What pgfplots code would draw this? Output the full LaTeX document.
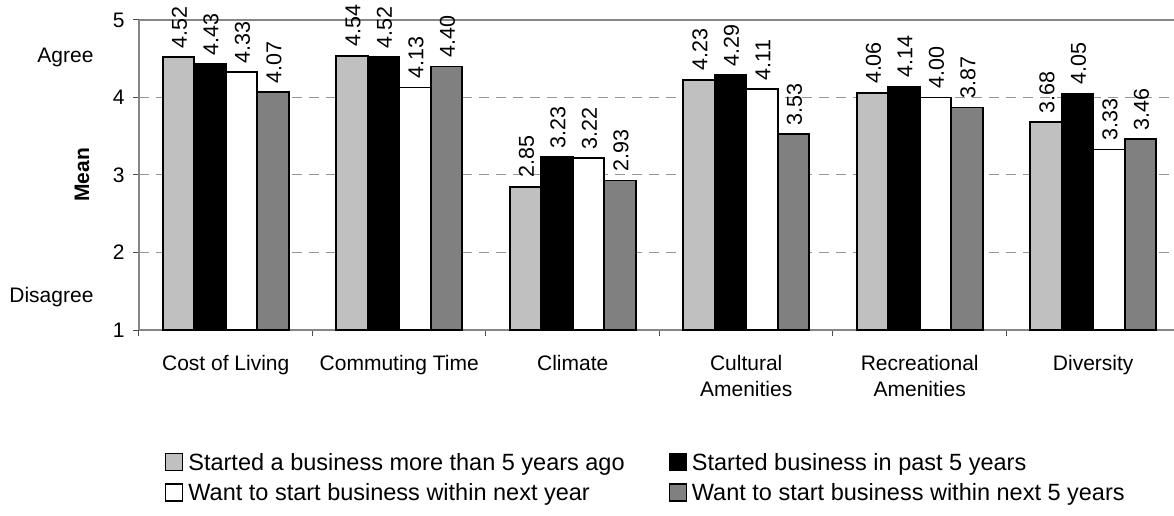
\documentclass[border=0pt]{standalone}
\usepackage{fontspec}
\setmainfont{Liberation Sans}
\usepackage{pgfplots}
\usepackage{pgfplotstable}
\pgfplotsset{compat=1.18}
\definecolor{lgray}{HTML}{C0C0C0}
\definecolor{dgray}{HTML}{808080}
\definecolor{axgray}{HTML}{868686}
\definecolor{grgray}{HTML}{959595}

\pgfplotstableread{
x a b c d
0 4.52 4.43 4.33 4.07
1 4.54 4.52 4.13 4.40
2 2.85 3.23 3.22 2.93
3 4.23 4.29 4.11 3.53
4 4.06 4.14 4.00 3.87
5 3.68 4.05 3.33 3.46
}\datatable

\begin{document}
\begin{tikzpicture}
\path[use as bounding box] (-139pt,-186pt) rectangle (1035pt,330pt);
\begin{axis}[
  at={(0pt,0pt)}, anchor=south west,
  scale only axis, width=1035pt, height=310pt,
  xmin=-0.5, xmax=5.4654, ymin=1, ymax=5,
  ybar=0pt, bar width=0.1816,
  font=\fontsize{21}{26}\selectfont,
  /pgf/number format/assume math mode=true,
  axis lines=left,
  axis line style={-, axgray, line width=1.2pt},
  tick align=outside,
  major tick length=6pt, minor tick length=6pt,
  ytick={1,2,3,4,5},
  xtick={0,1,2,3,4,5},
  xticklabels={Cost of Living, Commuting Time, Climate, Cultural\\Amenities, Recreational\\Amenities, Diversity},
  minor xtick={-0.5,0.5,1.5,2.5,3.5,4.5},
  major x tick style={draw=none},
  minor x tick style={black!70, line width=1pt},
  major y tick style={black!70, line width=1pt},
  xticklabel style={align=center, anchor=north, yshift=-16pt},
  yticklabel style={xshift=-5pt},
  ymajorgrids,
  major grid style={grgray, line width=1pt, dash pattern=on 10pt off 7pt},
  ylabel={\bfseries Mean},
  ylabel style={at={(axis description cs:-0.0551,0.5)}, anchor=center},
  nodes near coords={\pgfmathprintnumber[fixed,fixed zerofill,precision=2]{\pgfplotspointmeta}},
  every node near coord/.append style={rotate=90, anchor=west, font=\fontsize{21.5}{26}\selectfont, inner sep=0pt, xshift=8pt, yshift=-1pt},
  legend columns=2,
  legend cell align=left,
  legend style={at={(rel axis cs:0,0)}, anchor=north west, xshift=24pt, yshift=-119pt,
    draw=none, fill=none, font=\fontsize{23.5}{28}\selectfont,
    row sep=8pt, inner sep=2pt,
    /tikz/every node/.append style={inner sep=2pt},
    /tikz/column 1/.style={column sep=3pt},
    /tikz/column 3/.style={column sep=3pt},
    /tikz/column 2/.style={column sep=42pt}},
  legend image code/.code={\draw[#1, line width=1.2pt] (0pt,-8pt) rectangle (17pt,9pt);},
  clip=false,
]
\addplot[draw=black, fill=lgray, line width=1.8pt] table[x=x, y=a] {\datatable};
\addplot[draw=black, fill=black, line width=1.8pt] table[x=x, y=b] {\datatable};
\addplot[draw=black, fill=white, line width=1.8pt] table[x=x, y=c] {\datatable};
\addplot[draw=black, fill=dgray, line width=1.8pt] table[x=x, y=d] {\datatable};
\legend{Started a business more than 5 years ago, Started business in past 5 years, Want to start business within next year, Want to start business within next 5 years}
\draw[axgray, line width=1.5pt] (rel axis cs:0,1) -- (rel axis cs:1,1);
\node[anchor=east, font=\fontsize{21}{26}\selectfont] at (axis cs:-0.5,4.52) [xshift=-42pt] {Agree};
\node[anchor=east, font=\fontsize{21}{26}\selectfont] at (axis cs:-0.5,1.43) [xshift=-42pt] {Disagree};
\end{axis}
\end{tikzpicture}
\end{document}
